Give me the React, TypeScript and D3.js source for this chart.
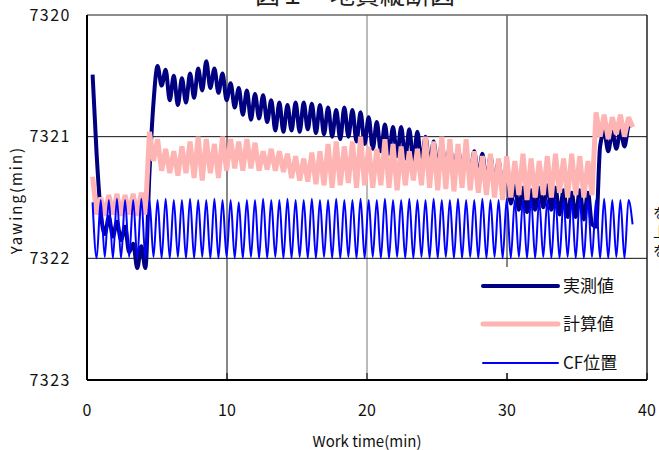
import React from 'react';
import * as d3 from 'd3';

// sample times (min) at each swing of the traces
const times = [
  0.40, 0.69, 0.98, 1.27, 1.56, 1.85, 2.14, 2.43, 2.72, 3.01,
  3.30, 3.59, 3.88, 4.17, 4.46, 4.75, 5.04, 5.33, 5.62, 5.91,
  6.20, 6.49, 6.78, 7.07, 7.36, 7.65, 7.94, 8.23, 8.52, 8.81,
  9.10, 9.39, 9.68, 9.97, 10.26, 10.55, 10.84, 11.13, 11.42, 11.71,
  12.00, 12.29, 12.58, 12.87, 13.16, 13.45, 13.74, 14.03, 14.32, 14.61,
  14.90, 15.19, 15.48, 15.77, 16.06, 16.35, 16.64, 16.93, 17.22, 17.51,
  17.80, 18.09, 18.38, 18.67, 18.96, 19.25, 19.54, 19.83, 20.12, 20.41,
  20.70, 20.99, 21.28, 21.57, 21.86, 22.15, 22.44, 22.73, 23.02, 23.31,
  23.60, 23.89, 24.18, 24.47, 24.76, 25.05, 25.34, 25.63, 25.92, 26.21,
  26.50, 26.79, 27.08, 27.37, 27.66, 27.95, 28.24, 28.53, 28.82, 29.11,
  29.40, 29.69, 29.98, 30.27, 30.56, 30.85, 31.14, 31.43, 31.72, 32.01,
  32.30, 32.59, 32.88, 33.17, 33.46, 33.75, 34.04, 34.33, 34.62, 34.91,
  35.20, 35.49, 35.78, 36.07, 36.36, 36.65, 36.94, 37.23, 37.52, 37.81,
  38.10, 38.39, 38.68, 38.97,
];

// 実測値
const measured = [
  7320.49, 7321.15, 7321.62, 7321.80, 7321.66, 7321.82, 7321.70, 7321.85, 7321.74, 7321.95,
  7321.88, 7322.08, 7321.90, 7322.08, 7321.30, 7320.72, 7320.42, 7320.58, 7320.45, 7320.70,
  7320.50, 7320.74, 7320.52, 7320.72, 7320.48, 7320.68, 7320.44, 7320.62, 7320.38, 7320.60,
  7320.44, 7320.64, 7320.48, 7320.70, 7320.56, 7320.76, 7320.60, 7320.82, 7320.62, 7320.86,
  7320.65, 7320.85, 7320.66, 7320.88, 7320.70, 7320.95, 7320.72, 7320.96, 7320.74, 7320.95,
  7320.72, 7320.96, 7320.72, 7320.94, 7320.73, 7320.97, 7320.74, 7320.98, 7320.76, 7321.00,
  7320.78, 7321.02, 7320.76, 7321.00, 7320.78, 7321.04, 7320.80, 7321.06, 7320.84, 7321.10,
  7320.88, 7321.12, 7320.90, 7321.14, 7320.92, 7321.16, 7320.92, 7321.18, 7320.94, 7321.20,
  7320.96, 7321.22, 7321.00, 7321.24, 7321.04, 7321.26, 7321.06, 7321.28, 7321.08, 7321.30,
  7321.10, 7321.30, 7321.12, 7321.32, 7321.12, 7321.34, 7321.14, 7321.38, 7321.16, 7321.40,
  7321.20, 7321.42, 7321.30, 7321.55, 7321.40, 7321.60, 7321.42, 7321.62, 7321.44, 7321.60,
  7321.42, 7321.58, 7321.40, 7321.60, 7321.42, 7321.64, 7321.44, 7321.66, 7321.46, 7321.66,
  7321.44, 7321.68, 7321.46, 7321.72, 7321.74, 7321.08, 7320.96, 7321.12, 7320.96, 7321.10,
  7320.95, 7321.08, 7320.92, 7320.90,
];

// 計算値
const calculated = [
  7321.33, 7321.64, 7321.50, 7321.65, 7321.48, 7321.64, 7321.47, 7321.65, 7321.48, 7321.64,
  7321.47, 7321.65, 7321.46, 7321.64, 7320.96, 7321.20, 7321.02, 7321.28, 7321.10, 7321.30,
  7321.12, 7321.32, 7321.08, 7321.30, 7321.04, 7321.34, 7321.00, 7321.36, 7321.02, 7321.30,
  7321.06, 7321.34, 7321.00, 7321.28, 7321.02, 7321.26, 7321.04, 7321.28, 7321.02, 7321.26,
  7321.05, 7321.28, 7321.12, 7321.27, 7321.10, 7321.28, 7321.12, 7321.29, 7321.14, 7321.34,
  7321.16, 7321.36, 7321.18, 7321.37, 7321.13, 7321.39, 7321.12, 7321.40, 7321.06, 7321.42,
  7321.04, 7321.40, 7321.08, 7321.38, 7321.04, 7321.42, 7321.00, 7321.40, 7321.08, 7321.42,
  7321.10, 7321.40, 7321.02, 7321.42, 7321.06, 7321.44, 7321.08, 7321.40, 7321.12, 7321.36,
  7321.10, 7321.40, 7321.00, 7321.42, 7321.04, 7321.44, 7321.00, 7321.43, 7321.02, 7321.45,
  7321.06, 7321.42, 7321.02, 7321.44, 7321.12, 7321.46, 7321.16, 7321.48, 7321.14, 7321.50,
  7321.18, 7321.52, 7321.16, 7321.50, 7321.20, 7321.48, 7321.14, 7321.52, 7321.18, 7321.50,
  7321.20, 7321.48, 7321.16, 7321.50, 7321.14, 7321.46, 7321.18, 7321.50, 7321.14, 7321.48,
  7321.16, 7321.50, 7321.20, 7321.48, 7320.80, 7321.00, 7320.82, 7321.02, 7320.84, 7320.98,
  7320.82, 7321.00, 7320.84, 7320.92,
];

// CF位置
const cfPosition = [
  7321.54, 7322.00, 7321.52, 7321.99, 7321.52, 7322.00, 7321.51, 7322.00, 7321.52, 7321.99,
  7321.52, 7322.00, 7321.51, 7322.00, 7321.52, 7321.99, 7321.52, 7322.00, 7321.51, 7322.00,
  7321.52, 7321.99, 7321.52, 7322.00, 7321.51, 7322.00, 7321.52, 7321.99, 7321.52, 7322.00,
  7321.51, 7322.00, 7321.52, 7321.99, 7321.52, 7322.00, 7321.54, 7322.00, 7321.52, 7321.99,
  7321.52, 7322.00, 7321.51, 7322.00, 7321.52, 7321.99, 7321.52, 7322.00, 7321.51, 7322.00,
  7321.52, 7321.99, 7321.52, 7322.00, 7321.51, 7322.00, 7321.52, 7321.99, 7321.52, 7322.00,
  7321.51, 7322.00, 7321.52, 7321.99, 7321.52, 7322.00, 7321.51, 7322.00, 7321.52, 7321.99,
  7321.52, 7322.00, 7321.51, 7322.00, 7321.52, 7321.99, 7321.52, 7322.00, 7321.51, 7322.00,
  7321.52, 7321.99, 7321.52, 7322.00, 7321.51, 7322.00, 7321.52, 7321.99, 7321.52, 7322.00,
  7321.51, 7322.00, 7321.52, 7321.99, 7321.52, 7322.00, 7321.51, 7322.00, 7321.52, 7321.99,
  7321.52, 7322.00, 7321.51, 7322.00, 7321.52, 7321.99, 7321.52, 7322.00, 7321.51, 7322.00,
  7321.52, 7321.99, 7321.52, 7322.00, 7321.51, 7322.00, 7321.52, 7321.99, 7321.52, 7322.00,
  7321.51, 7322.00, 7321.52, 7321.99, 7321.52, 7322.00, 7321.51, 7322.00, 7321.52, 7321.99,
  7321.52, 7322.00, 7321.52, 7321.72,
];

const xTicks = [0, 10, 20, 30, 40];
const yTicks = [7320, 7321, 7322, 7323];
const seriesNames = ['実測値', '計算値', 'CF位置'];

const W = 659;
const H = 450;
const margin = { top: 15, right: 12, bottom: 70, left: 87 };
const font = '"Noto Sans CJK JP", "Noto Sans", sans-serif';

const App = () => {
  const x = d3.scaleLinear().domain([0, 40]).range([margin.left, W - margin.right]);
  const y = d3.scaleLinear().domain([7320, 7323]).range([margin.top, H - margin.bottom]);

  const smooth = d3.line<number>()
    .x((_, i) => x(times[i]))
    .y(d => y(d))
    .curve(d3.curveMonotoneX);
  const straight = d3.line<number>()
    .x((_, i) => x(times[i]))
    .y(d => y(d));

  const x0 = x(0), x1 = x(40), y0 = y(7320), y1 = y(7323);

  // legend
  const lgX = 483, lgLen = 75;
  const lgRows = [286, 324, 363];

  return (
    <svg width={W} height={H} style={{ position: 'absolute', left: 0, top: 0, background: '#fff' }}>
      <defs>
        <clipPath id="plot">
          <rect x={x0} y={y0} width={x1 - x0} height={y1 - y0} />
        </clipPath>
      </defs>

      {/* title, cut off by the top edge */}
      <text x={255} y={4} fontSize={25} fontFamily={'"Noto Sans CJK JP", serif'} fill="#222">図１　地質縦断図</text>

      {/* grid */}
      {xTicks.slice(1, -1).map(t => (
        <line key={'gx' + t} x1={x(t)} x2={x(t)} y1={y0} y2={y1} stroke={t === 20 ? '#777' : '#111'} strokeWidth={1} />
      ))}
      {yTicks.slice(1, -1).map(t => (
        <line key={'gy' + t} x1={x0} x2={x1} y1={y(t)} y2={y(t)} stroke="#111" strokeWidth={1} />
      ))}

      {/* series */}
      <g clipPath="url(#plot)" fill="none">
        <path d={smooth(measured) || ''} stroke="#000080" strokeWidth={4} strokeLinejoin="round" />
        <path d={straight(calculated) || ''} stroke="#ffb4b4" strokeWidth={5} strokeLinejoin="bevel" />
        <path d={smooth(cfPosition) || ''} stroke="#0000ff" strokeWidth={2} />
      </g>

      {/* frame */}
      <line x1={x0} x2={x1} y1={y0} y2={y0} stroke="#666" strokeWidth={1.5} />
      <line x1={x1} x2={x1} y1={y0} y2={y1} stroke="#222" strokeWidth={1.5} />

      {/* legend */}
      <rect x={470} y={267} width={175} height={106} fill="#fff" />
      {seriesNames.map((name, i) => (
        <g key={name}>
          <line x1={lgX} x2={lgX + lgLen} y1={lgRows[i]} y2={lgRows[i]}
            stroke={['#000080', '#ffb4b4', '#0000ff'][i]} strokeWidth={[4, 5, 2][i]} strokeLinecap="round" />
          <text x={lgX + lgLen + 5} y={lgRows[i]} dy="0.36em" fontSize={17} fontFamily={font} fill="#111">{name}</text>
        </g>
      ))}

      {/* axes */}
      <line x1={x0} x2={x0} y1={y0} y2={y1} stroke="#000" strokeWidth={2} />
      <line x1={x0} x2={x1} y1={y1} y2={y1} stroke="#000" strokeWidth={2} />
      {xTicks.map(t => (
        <g key={'xt' + t}>
          <line x1={x(t)} x2={x(t)} y1={y1} y2={y1 - 7} stroke="#000" strokeWidth={1} />
          <text x={x(t)} y={416} textAnchor="middle" fontSize={16} fontFamily={font} fill="#111">{t}</text>
        </g>
      ))}
      {yTicks.map(t => (
        <text key={'yt' + t} x={71} y={y(t)} dy="0.36em" textAnchor="end" fontSize={16} letterSpacing={1.5} fontFamily={font} fill="#111">{t}</text>
      ))}

      <text x={x(20)} y={447} textAnchor="middle" fontSize={15} fontFamily={font} fill="#111">Work time(min)</text>
      <text transform="translate(22,200) rotate(-90)" textAnchor="middle" fontSize={15} letterSpacing={2} fontFamily={font} fill="#111">Yawing(min)</text>

      {/* fragments of neighbouring text at the right edge */}
      {['を', '上', 'を'].map((c, i) => (
        <text key={'r' + i} x={653} y={218 + i * 19} fontSize={14} fontFamily={font} fill="#111">{c}</text>
      ))}
    </svg>
  );
};

export default App;
